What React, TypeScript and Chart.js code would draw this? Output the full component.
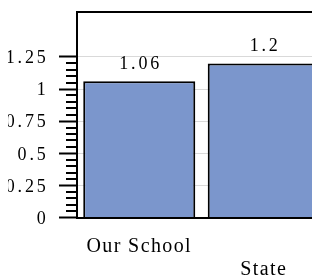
import React, { useEffect, useRef } from 'react';
import { Chart, registerables } from 'chart.js';

Chart.register(...registerables);

const categories = ['Our School', 'State'];
const categoryLabelLines = [['Our School'], ['', 'State']];
const values = [1.06, 1.2];
const valueLabels = ['1.06', '1.2'];
const yTickValues = [0, 0.25, 0.5, 0.75, 1, 1.25];
const yTickLabels = ['0', '0.25', '0.5', '0.75', '1', '1.25'];
const yMax = 1.6;
const yMinorStep = 0.05;

export default function App() {
  const ref = useRef<HTMLCanvasElement>(null);

  useEffect(() => {
    const canvas = ref.current!;
    const framePlugin = {
      id: 'frame',
      beforeDraw(chart: any) {
        chart.ctx.letterSpacing = '1.4px';
      },
      afterDatasetsDraw(chart: any) {
        const ctx = chart.ctx;
        ctx.letterSpacing = '2.8px';
        const meta = chart.getDatasetMeta(0);
        ctx.save();
        ctx.font = '18px "Liberation Serif"';
        ctx.fillStyle = '#000';
        ctx.textAlign = 'center';
        ctx.textBaseline = 'alphabetic';
        meta.data.forEach((bar: any, i: number) => {
          ctx.fillText(valueLabels[i], bar.x + 1.4, bar.y - 12.5);
        });
        ctx.restore();
      },
      afterDraw(chart: any) {
        const { ctx, chartArea, scales } = chart;
        const y = scales.y;
        ctx.save();
        ctx.strokeStyle = '#000';
        ctx.lineWidth = 2;
        ctx.beginPath();
        const top = yTickValues[yTickValues.length - 1];
        const major = yTickValues[1] - yTickValues[0];
        const n = Math.round(top / yMinorStep);
        const every = Math.round(major / yMinorStep);
        for (let i = 1; i < n; i++) {
          if (i % every === 0) continue;
          const py = Math.round(y.getPixelForValue(i * yMinorStep));
          ctx.moveTo(chartArea.left - 11, py);
          ctx.lineTo(chartArea.left, py);
        }
        ctx.moveTo(chartArea.left - 1, chartArea.top);
        ctx.lineTo(chartArea.right + 1, chartArea.top);
        ctx.stroke();
        ctx.restore();
      },
    };

    const chart = new Chart(canvas, {
      type: 'bar',
      data: {
        labels: categoryLabelLines as any,
        datasets: [
          {
            label: categories.join(' / '),
            data: values,
            backgroundColor: '#7b96cc',
            borderColor: '#000',
            borderWidth: 2,
            borderSkipped: 'start',
            barPercentage: 0.9,
            categoryPercentage: 1,
          },
        ],
      },
      options: {
        animation: false,
        responsive: false,
        devicePixelRatio: 1,
        layout: { padding: { top: 4, right: 12, left: 0, bottom: 0 } },
        plugins: { legend: { display: false }, tooltip: { enabled: false } },
        scales: {
          x: {
            grid: { display: false, drawTicks: false },
            border: { display: true, color: '#000', width: 2 },
            ticks: {
              color: '#000',
              font: { family: '"Liberation Serif"', size: 20, lineHeight: 23.5 / 20 },
              padding: 17.3,
              autoSkip: false,
              maxRotation: 0,
              minRotation: 0,
            },
            afterFit: (s: any) => {
              s.height = 62.5;
              s.paddingLeft = 0;
              s.paddingRight = 0;
              s.paddingTop = 0;
              s.paddingBottom = 0;
            },
          },
          y: {
            min: 0,
            max: yMax,
            afterBuildTicks: (s: any) => {
              s.ticks = yTickValues.map((v) => ({ value: v }));
            },
            afterFit: (s: any) => {
              s.width = 69;
              s.paddingLeft = 0;
              s.paddingRight = 0;
              s.paddingTop = 0;
              s.paddingBottom = 0;
            },
            grid: {
              color: '#d9d9d9',
              lineWidth: 1,
              tickColor: '#000',
              tickWidth: 2,
              tickLength: 18,
            },
            border: { display: true, color: '#000', width: 2 },
            ticks: {
              z: 1,
              color: '#000',
              padding: 10.5,
              labelOffset: 1.5,
              font: { family: '"Liberation Serif"', size: 18 },
              callback: (_v: any, i: number) => yTickLabels[i],
            },
          },
        },
      },
      plugins: [framePlugin],
    });
    return () => chart.destroy();
  }, []);

  return (
    <div style={{ width: 312, height: 272, overflow: 'hidden', position: 'relative' }}>
      <canvas
        ref={ref}
        width={330}
        height={272}
        style={{ display: 'block', width: 330, height: 272 }}
      />
    </div>
  );
}
